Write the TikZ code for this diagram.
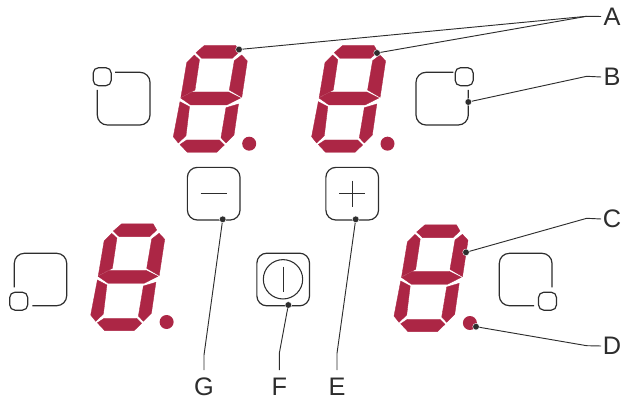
\documentclass[tikz,border=0pt]{standalone}
\usepackage{fontspec}
\setmainfont{Liberation Sans}
\definecolor{segred}{RGB}{172, 38, 69}
\definecolor{inkgray}{RGB}{45, 45, 45}
\tikzset{
seg/.style={fill=segred,draw=segred,line width=.25pt},
keybox/.style={draw=inkgray,line width=.9pt,rounded corners=7.5pt,minimum size=39.5pt,inner sep=0pt},
cornerkey/.style={draw=inkgray,line width=.9pt,rounded corners=7.5pt},
smallkey/.style={draw=inkgray,line width=.9pt,rounded corners=4pt,minimum size=13.5pt,inner sep=0pt},
leader/.style={draw=inkgray,line width=.7pt},
leaderdot/.style={circle,fill=inkgray,draw=white,line width=.3pt,minimum size=5pt,inner sep=0pt},
decpoint/.style={circle,fill=segred,minimum size=10.5pt,inner sep=0pt},
sidelabel/.style={text=inkgray,inner sep=0pt,minimum width=16pt,font=\fontsize{19}{19}\selectfont},
footlabel/.style={text=inkgray,inner sep=0pt,minimum height=25pt,font=\fontsize{19}{19}\selectfont},
}
\begin{document}
\begin{tikzpicture}[x=.75pt,y=-.75pt]
\useasboundingbox (0,0) rectangle (623,402);
% seven segment digits
\foreach \n/\gx/\gy in {1/0/0,2/138.3/0,3/-82.6/178.3,4/220.7/179.3}{
\begin{scope}[shift={(\gx,\gy)}]
\path[seg] (204.3,45.5) -- (235.7,45.5) -- (239.3,51.7) -- (232.3,58.3) -- (201.7,58.3) -- (196,52.7) -- cycle;
\path[seg] (194.3,55) -- (199.5,59.8) -- (195,90) -- (180.9,97.3) -- (186.7,62.7) -- cycle;
\path[seg] (241.7,55) -- (247.3,61) -- (241.8,97.3) -- (229.3,90) -- (234.3,60.7) -- cycle;
\path[seg] (180.7,98) -- (192,92) -- (228.5,92) -- (240.5,98) -- (226.7,105) -- (190.7,105) -- cycle;
\path[seg] (180,101.7) -- (189.5,106.7) -- (186,135.7) -- (178.3,143) -- (173.3,136.7) -- cycle;
\path[seg] (238.5,104) -- (234,135) -- (226,143) -- (221,137.7) -- (226,107.7) -- cycle;
\path[seg] (180,144.5) -- (186.7,140) -- (219.3,140) -- (224.3,145) -- (216.7,152.3) -- (187.3,152.3) -- cycle;
\node[decpoint] (dp\n) at (249.2,143.7) {};
\end{scope}
}
% corner keys
\draw[cornerkey] (115,72.3) -- (150,72.3) -- (150,125) -- (97.3,125) -- (97.3,90);
\node[smallkey] (tl) at (102.2,76.7) {};
\draw[cornerkey] (453.3,72.3) -- (416,72.3) -- (416,125) -- (468.3,125) -- (468.3,90);
\node[smallkey] (tr) at (464.2,76.7) {};
\draw[cornerkey] (14.3,287.3) -- (14.3,253.3) -- (66.7,253.3) -- (66.7,305.7) -- (32.3,305.7);
\node[smallkey] (bl) at (18.7,301.2) {};
\draw[cornerkey] (552,287.3) -- (552,253.3) -- (499.3,253.3) -- (499.3,305.7) -- (534,305.7);
\node[smallkey] (br) at (547.5,301.2) {};
% middle keys
\node[keybox] (minus) at (213.7,193.7) {};
\node[keybox] (plus) at (352.2,193.7) {};
\node[keybox] (power) at (283.2,279.5) {};
\draw[leader] (200.7,193.3) -- (226.7,193.3);
\draw[leader] (339.3,193.3) -- (365,193.3);
\draw[leader] (352,180.7) -- (352,206.7);
\node[circle,draw=inkgray,line width=.8pt,minimum size=29.5pt,inner sep=0pt] (ring) at (283,279.3) {};
\draw[leader] (283,266.7) -- (283,292);
% labels
\node[sidelabel] (labA) at (612,16.5) {A};
\node[sidelabel] (labB) at (612,77) {B};
\node[sidelabel] (labC) at (612,219) {C};
\node[sidelabel] (labD) at (612,346) {D};
\node[footlabel] (labG) at (204,387) {G};
\node[footlabel] (labF) at (279.3,387) {F};
\node[footlabel] (labE) at (337,387) {E};
% leader ends
\node[leaderdot] (dotA1) at (239,49.5) {};
\node[leaderdot] (dotA2) at (377,53) {};
\node[leaderdot] (dotB) at (468.3,102) {};
\node[leaderdot] (dotC) at (466,252.3) {};
\node[leaderdot] (dotD) at (476,326.7) {};
\node[leaderdot] (dotG) at (222.7,219.3) {};
\node[leaderdot] (dotF) at (288.3,305) {};
\node[leaderdot] (dotE) at (355.7,219.3) {};
\coordinate (kneeA) at (586.7,16.3);
\coordinate (kneeB) at (586.7,76.3);
\coordinate (kneeC) at (586.7,218.3);
\coordinate (kneeD) at (586.7,345.7);
\coordinate (kneeG) at (204,355);
\coordinate (kneeF) at (279.3,353.3);
\coordinate (kneeE) at (337,353.3);
\draw[leader] (dotA1) -- (kneeA) -- (labA.west);
\draw[leader] (dotA2) -- (kneeA);
\draw[leader] (dotB) -- (kneeB) -- (labB.west);
\draw[leader] (dotC) -- (kneeC) -- (labC.west);
\draw[leader] (dotD) -- (kneeD) -- (labD.west);
\draw[leader] (dotG) -- (kneeG) -- (labG.north);
\draw[leader] (dotF) -- (kneeF) -- (labF.north);
\draw[leader] (dotE) -- (kneeE) -- (labE.north);
\end{tikzpicture}
\end{document}
